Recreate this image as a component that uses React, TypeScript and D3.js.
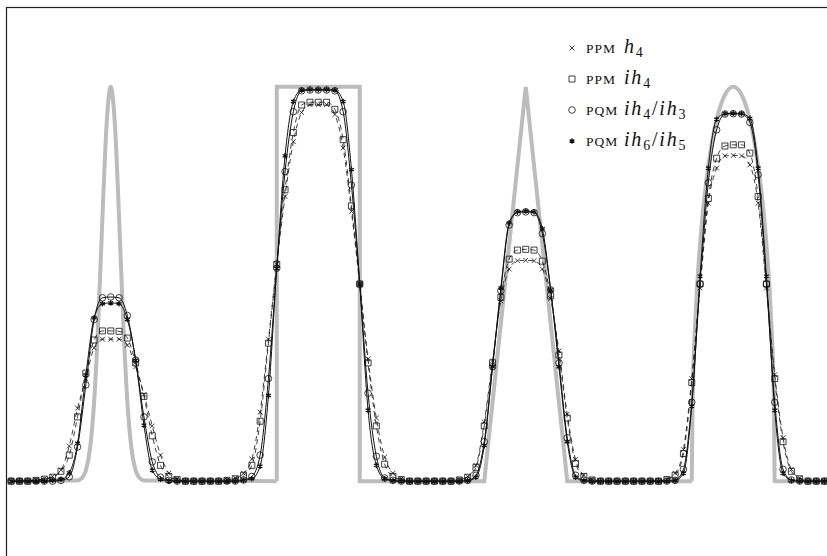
import React, { useEffect, useRef } from 'react';
import * as d3 from 'd3';

// cell averages on 100 cells over [0, 2]
const ppmH4 = [
  0, 0, 0, 0.003, 0.006, 0.012, 0.028, 0.089, 0.185, 0.26,
  0.338, 0.36, 0.36, 0.36, 0.345, 0.29, 0.22, 0.14, 0.066, 0.02,
  0.006, 0, 0, 0, 0, 0, 0.003, 0.008, 0.02, 0.056,
  0.175, 0.36, 0.55, 0.722, 0.861, 0.935, 0.955, 0.955, 0.955, 0.93,
  0.845, 0.684, 0.5, 0.31, 0.16, 0.061, 0.02, 0.006, 0, 0,
  0, 0, 0, 0, 0.004, 0.012, 0.04, 0.15, 0.305, 0.457,
  0.538, 0.559, 0.56, 0.559, 0.538, 0.463, 0.33, 0.17, 0.055, 0.015,
  0.004, 0, 0, 0, 0, 0, 0, 0, 0, 0.005,
  0.02, 0.08, 0.26, 0.49, 0.705, 0.794, 0.825, 0.826, 0.825, 0.802,
  0.705, 0.49, 0.27, 0.11, 0.03, 0.008, 0, 0, 0, 0,
];

const ppmIh4 = [
  0, 0, 0, 0.002, 0.005, 0.01, 0.025, 0.066, 0.163, 0.274,
  0.358, 0.381, 0.381, 0.38, 0.363, 0.3, 0.215, 0.115, 0.04, 0.012,
  0.004, 0, 0, 0, 0, 0, 0.002, 0.006, 0.015, 0.04,
  0.152, 0.35, 0.55, 0.739, 0.884, 0.954, 0.961, 0.961, 0.961, 0.943,
  0.866, 0.698, 0.5, 0.3, 0.14, 0.043, 0.012, 0.004, 0, 0,
  0, 0, 0, 0, 0.003, 0.01, 0.035, 0.14, 0.3, 0.466,
  0.563, 0.586, 0.588, 0.586, 0.558, 0.47, 0.32, 0.16, 0.045, 0.012,
  0.003, 0, 0, 0, 0, 0, 0, 0, 0, 0.004,
  0.015, 0.07, 0.25, 0.5, 0.717, 0.819, 0.85, 0.853, 0.853, 0.832,
  0.722, 0.5, 0.26, 0.1, 0.025, 0.006, 0, 0, 0, 0,
];

const pqm43 = [
  0, 0, 0, 0, 0, 0, 0.002, 0.011, 0.087, 0.244,
  0.41, 0.465, 0.467, 0.465, 0.42, 0.307, 0.163, 0.049, 0.01, 0.002,
  0, 0, 0, 0, 0, 0, 0, 0, 0.003, 0.012,
  0.066, 0.26, 0.54, 0.785, 0.937, 0.99, 0.992, 0.992, 0.992, 0.99,
  0.937, 0.751, 0.5, 0.223, 0.063, 0.008, 0.002, 0, 0, 0,
  0, 0, 0, 0, 0, 0.002, 0.015, 0.1, 0.29, 0.483,
  0.65, 0.681, 0.683, 0.681, 0.628, 0.485, 0.3, 0.11, 0.015, 0.002,
  0, 0, 0, 0, 0, 0, 0, 0, 0, 0,
  0.002, 0.03, 0.2, 0.5, 0.757, 0.891, 0.931, 0.932, 0.931, 0.91,
  0.777, 0.5, 0.2, 0.03, 0.003, 0, 0, 0, 0, 0,
];

const pqm65 = [
  0, 0, 0, 0, 0, 0.002, 0.004, 0.021, 0.096, 0.269,
  0.414, 0.45, 0.452, 0.45, 0.41, 0.307, 0.142, 0.028, 0.005, 0,
  0, 0, 0, 0, 0, 0, 0, 0, 0.002, 0.006,
  0.038, 0.217, 0.54, 0.825, 0.963, 0.992, 0.993, 0.993, 0.993, 0.992,
  0.963, 0.79, 0.5, 0.18, 0.04, 0.006, 0.001, 0, 0, 0,
  0, 0, 0, 0, 0, 0.001, 0.01, 0.09, 0.29, 0.49,
  0.655, 0.683, 0.685, 0.683, 0.64, 0.485, 0.29, 0.1, 0.01, 0.001,
  0, 0, 0, 0, 0, 0, 0, 0, 0, 0,
  0.001, 0.02, 0.19, 0.52, 0.794, 0.918, 0.932, 0.933, 0.932, 0.92,
  0.794, 0.52, 0.18, 0.02, 0.002, 0, 0, 0, 0, 0,
];

// exact profile (gray)
const gaussX = [0, 0.17, 0.18, 0.19, 0.2, 0.21, 0.22, 0.23, 0.24, 0.25, 0.26, 0.27, 0.28, 0.29, 0.3, 0.31, 0.32, 0.33, 0.65];
const gaussY = [0, 0.0017, 0.0074, 0.027, 0.082, 0.202, 0.407, 0.67, 0.905, 1, 0.905, 0.67, 0.407, 0.202, 0.082, 0.027, 0.0074, 0.0017, 0];
const blockX = [0.65, 0.65, 0.85, 0.85, 1.15, 1.25, 1.35, 1.65];
const blockY = [0, 1, 1, 0, 0, 1, 0, 0];
const ellipseX = [1.65, 1.652, 1.66, 1.67, 1.68, 1.69, 1.7, 1.72, 1.75, 1.78, 1.8, 1.81, 1.82, 1.83, 1.84, 1.848, 1.85, 2];
const ellipseY = [0, 0.199, 0.436, 0.6, 0.714, 0.8, 0.866, 0.954, 1, 0.954, 0.866, 0.8, 0.714, 0.6, 0.436, 0.199, 0, 0];

const methods = ['PPM', 'PPM', 'PQM', 'PQM'];
const schemes = [[['h', '4']], [['ih', '4']], [['ih', '4'], ['ih', '3']], [['ih', '6'], ['ih', '5']]];

export default function App() {
  const svgRef = useRef(null);

  useEffect(() => {
    const svg = d3.select(svgRef.current);
    svg.selectAll('*').remove();

    const x = d3.scaleLinear().domain([0, 2]).range([7, 837]);
    const y = d3.scaleLinear().domain([-0.2, 1.2]).range([560, 8]);
    const dx = 0.02;
    const cells = d3.range(100).map((i) => (i + 0.5) * dx);

    // frame
    svg.append('rect')
      .attr('x', x(0) - 0.5).attr('y', y(1.2) - 0.5)
      .attr('width', 830).attr('height', 560)
      .attr('fill', 'none').attr('stroke', '#222').attr('stroke-width', 1.2);

    // exact solution
    const exact = svg.append('g')
      .attr('fill', 'none').attr('stroke', '#bcbcbc').attr('stroke-width', 4);
    const smooth = d3.line().x((d) => x(d[0])).y((d) => y(d[1])).curve(d3.curveMonotoneX);
    const straight = d3.line().x((d) => x(d[0])).y((d) => y(d[1]));
    exact.append('path').attr('d', smooth(gaussX.map((v, i) => [v, gaussY[i]])));
    exact.append('path').attr('stroke-linejoin', 'miter')
      .attr('d', straight(blockX.map((v, i) => [v, blockY[i]])));
    exact.append('path').attr('d', smooth(ellipseX.map((v, i) => [v, ellipseY[i]])));

    const markerPath = (type) => {
      if (type === 'times') { const s = 2.4; return `M${-s},${-s}L${s},${s}M${-s},${s}L${s},${-s}`; }
      if (type === 'square') return 'M-3,-3H3V3H-3Z';
      if (type === 'circle') return 'M3.3,0A3.3,3.3 0 1,1 -3.3,0A3.3,3.3 0 1,1 3.3,0Z';
      const r = 2.8, c = r * Math.cos(Math.PI / 6), s = r * 0.5;
      return `M0,${-r}V${r}M${-c},${-s}L${c},${s}M${-c},${s}L${c},${-s}`;
    };

    const series = [
      { data: ppmH4, marker: 'times', dash: '5,4', width: 0.8 },
      { data: ppmIh4, marker: 'square', dash: '5,4', width: 0.8 },
      { data: pqm43, marker: 'circle', dash: null, width: 1 },
      { data: pqm65, marker: 'asterisk', dash: null, width: 1 },
    ];

    const line = d3.line().x((d) => x(d[0])).y((d) => y(d[1])).curve(d3.curveMonotoneX);
    series.forEach((s) => {
      const pts = cells.map((c, i) => [c, s.data[i]]);
      svg.append('path')
        .attr('d', line(pts))
        .attr('fill', 'none').attr('stroke', '#111')
        .attr('stroke-width', s.width)
        .attr('stroke-dasharray', s.dash);
      svg.append('g').selectAll('path').data(pts).enter().append('path')
        .attr('transform', (d) => `translate(${x(d[0])},${y(d[1])})`)
        .attr('d', markerPath(s.marker))
        .attr('fill', 'none').attr('stroke', '#111')
        .attr('stroke-width', s.marker === 'asterisk' ? 1.3 : 0.8);
    });

    // legend
    const legend = svg.append('g').attr('transform', 'translate(572,48)');
    series.forEach((s, k) => {
      const row = legend.append('g').attr('transform', `translate(0,${k * 31})`);
      row.append('path').attr('d', markerPath(s.marker))
        .attr('fill', 'none').attr('stroke', '#111')
        .attr('stroke-width', s.marker === 'asterisk' ? 1.3 : 0.8);
      row.append('text').attr('x', 14).attr('y', 4.5)
        .attr('font-family', 'Liberation Serif, serif').attr('font-size', 13.5)
        .attr('letter-spacing', 1).attr('fill', '#111').text(methods[k]);
      const t = row.append('text').attr('x', 52).attr('y', 5)
        .attr('font-family', 'Liberation Serif, serif').attr('font-size', 20)
        .attr('letter-spacing', 1.8).attr('fill', '#111');
      schemes[k].forEach((p, j) => {
        if (j > 0) t.append('tspan').attr('dy', -4).text('/');
        t.append('tspan').attr('font-style', 'italic').text(p[0]);
        t.append('tspan').attr('font-size', 14).attr('dy', 4).text(p[1]);
      });
    });
  }, []);

  return (
    <svg ref={svgRef} width={827} height={556}
      style={{ position: 'fixed', left: 0, top: 0, background: '#fff' }} />
  );
}
